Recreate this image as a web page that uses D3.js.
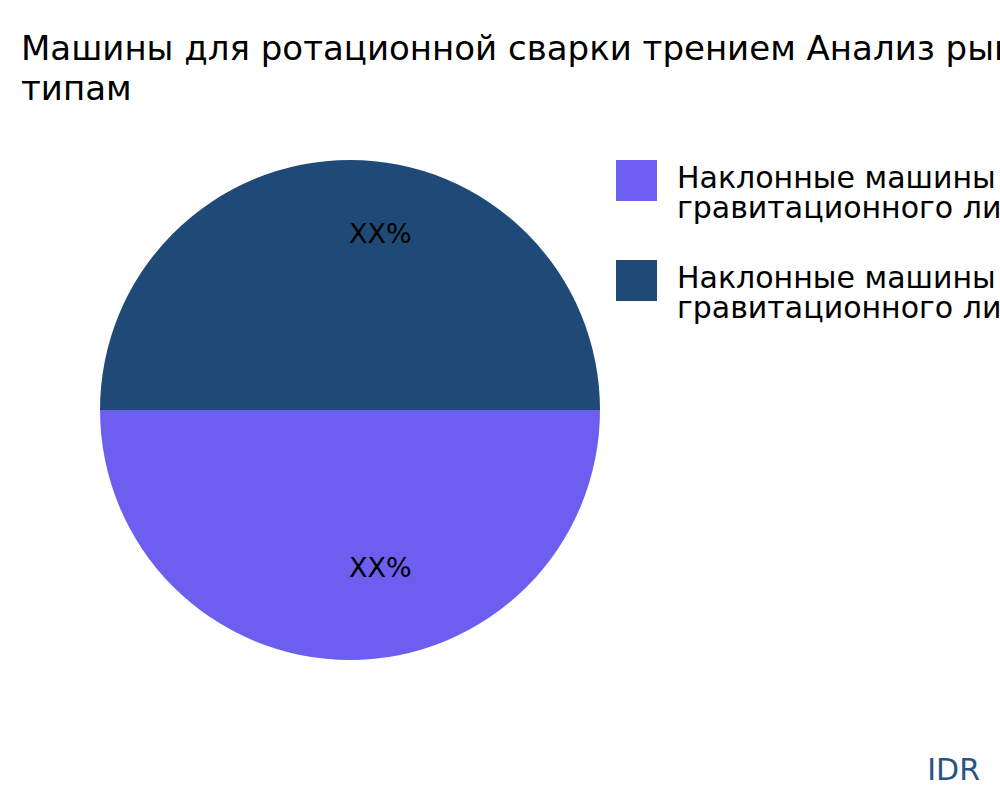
<!DOCTYPE html>
<html>
<head>
<meta charset="utf-8">
<script src="https://cdn.jsdelivr.net/npm/d3@7"></script>
<style>
  body { margin: 0; background: #fff; overflow: hidden; }
  svg { display: block; font-family: "DejaVu Sans", sans-serif; }
</style>
</head>
<body>
<svg id="chart"></svg>
<script>
// chart data
var titleLines = ["Машины для ротационной сварки трением Анализ рынка по", "типам"];
var categories = ["Наклонные машины гравитационного литья", "Наклонные машины гравитационного литья"];
var values = [50, 50];
var sliceLabels = ["XX%", "XX%"];
var colors = ["#6c5ff0", "#1f4a78"];

var width = 1000, height = 800;
var cx = 350, cy = 410, radius = 250;

var svg = d3.select("#chart")
  .attr("width", width)
  .attr("height", height);

// title, wrapped onto two lines
svg.append("text")
  .attr("x", 21)
  .attr("y", 60)
  .attr("font-size", 34)
  .attr("fill", "#000")
  .selectAll("tspan")
  .data(titleLines)
  .join("tspan")
  .attr("x", 21)
  .attr("dy", (d, i) => i === 0 ? 0 : 40)
  .text(d => d);

var data = values.map((v, i) => ({ name: categories[i], value: v, label: sliceLabels[i], color: colors[i] }));

// first slice starts at 3 o'clock and runs clockwise, so it fills the bottom half
var pie = d3.pie()
  .sort(null)
  .value(d => d.value)
  .startAngle(Math.PI / 2)
  .endAngle(Math.PI / 2 + 2 * Math.PI);

var arc = d3.arc().innerRadius(0).outerRadius(radius);
var labelArc = d3.arc().innerRadius(167).outerRadius(167);

var g = svg.append("g").attr("transform", `translate(${cx},${cy})`);

g.selectAll("path")
  .data(pie(data))
  .join("path")
  .attr("d", arc)
  .attr("fill", d => d.data.color);

g.selectAll("text")
  .data(pie(data))
  .join("text")
  .attr("x", d => labelArc.centroid(d)[0] - 1)
  .attr("y", d => labelArc.centroid(d)[1])
  .attr("font-size", 27)
  .attr("fill", "#000")
  .text(d => d.data.label);

// legend
var legend = svg.append("g").attr("transform", "translate(616,160)");

var items = legend.selectAll("g")
  .data(data)
  .join("g")
  .attr("transform", (d, i) => `translate(0,${i * 100})`);

items.append("rect")
  .attr("width", 41)
  .attr("height", 41)
  .attr("fill", d => d.color);

// legend label breaks after the second word
items.append("text")
  .attr("font-size", 30)
  .attr("fill", "#000")
  .selectAll("tspan")
  .data(d => {
    var words = d.name.split(" ");
    return [words.slice(0, 2).join(" "), words.slice(2).join(" ")];
  })
  .join("tspan")
  .attr("x", 61)
  .attr("y", (d, i) => 28 + i * 30)
  .text(d => d);

svg.append("text")
  .attr("x", 980)
  .attr("y", 780)
  .attr("text-anchor", "end")
  .attr("font-size", 30)
  .attr("fill", "#2a5583")
  .text("IDR");
</script>
</body>
</html>
